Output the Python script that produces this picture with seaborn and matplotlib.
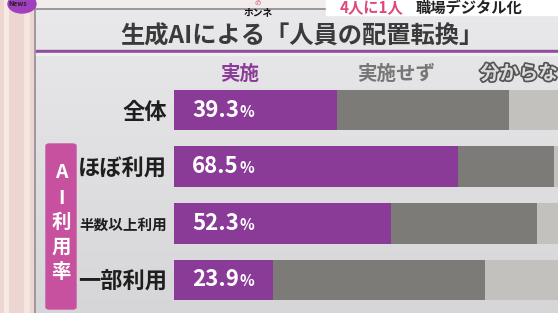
import matplotlib
matplotlib.use('Agg')
import matplotlib.pyplot as plt
import matplotlib.patheffects as pe
from matplotlib.patches import Rectangle, FancyBboxPatch, Ellipse
import seaborn as sns
import pandas as pd
import numpy as np

# ---- data ----
categories = ['全体', 'ほぼ利用', '半数以上利用', '一部利用']
implemented = [39.3, 68.5, 52.3, 23.9]
not_implemented = [41.6, 23.3, 35.4, 51.2]
unknown = [19.1, 8.2, 12.3, 24.9]
legend_labels = ['実施', '実施せず', '分からない']
title = '生成AIによる「人員の配置転換」'
side_label = ['A', 'I', '利', '用', '率']

sns.set_theme(style='white')
plt.rcParams['font.family'] = ['Noto Sans CJK JP', 'DejaVu Sans']

PURPLE = '#8a3b97'
GRAY = '#7c7b78'
LIGHT = '#c3c1be'

W, H = 558, 313
fig = plt.figure(figsize=(W / 100, H / 100), dpi=100)


def fx(x):
    return x / W


def fy(y):
    return 1 - y / H


# ---- background (decoration) ----
bg = fig.add_axes([0, 0, 1, 1], zorder=-10)
yy = np.linspace(0, 1, H)[:, None]
img = np.zeros((H, W, 3))
top = np.array([0.915, 0.915, 0.925])
bot = np.array([0.84, 0.84, 0.85])
img[:] = (top + (bot - top) * yy)[:, None, :].reshape(H, 1, 3)
img[:, :35] = np.array([0.93, 0.84, 0.82])
img[:, 4:9] = np.array([0.97, 0.92, 0.90])
img[:, 24:30] = np.array([0.96, 0.90, 0.88])
img[:10, 35:] = np.array([0.95, 0.93, 0.92])
img[8:10, 35:] = np.array([0.60, 0.60, 0.62])
img[:, 34:36] = np.array([0.62, 0.60, 0.62])
bg.imshow(img, aspect='auto', extent=[0, W, H, 0])
bg.set_axis_off()

# ---- main bars ----
df = pd.DataFrame({
    'cat': categories,
    'imp': implemented,
    'notimp': not_implemented,
    'unk': unknown,
})
df['lvl2'] = df['imp'] + df['notimp']
df['lvl3'] = df['lvl2'] + df['unk']

ax = fig.add_axes([fx(174), fy(308.3), 414 / W, (308.3 - 81.7) / H])
ax.patch.set_alpha(0)
sns.barplot(data=df, x='lvl3', y='cat', orient='h', color=LIGHT, width=0.72,
            saturation=1, linewidth=0, ax=ax)
sns.barplot(data=df, x='lvl2', y='cat', orient='h', color=GRAY, width=0.72,
            saturation=1, linewidth=0, ax=ax)
sns.barplot(data=df, x='imp', y='cat', orient='h', color=PURPLE, width=0.72,
            saturation=1, linewidth=0, ax=ax)
ax.set_xlim(0, 100)
ax.set_ylim(3.5, -0.5)
ax.set_xlabel('')
ax.set_ylabel('')
ax.set_xticks([])
for s in ax.spines.values():
    s.set_visible(False)
ax.tick_params(axis='y', length=0, pad=5)
ax.set_yticks(range(len(categories)))
ax.set_yticklabels(categories, fontweight='bold', color='#1e1e1e')
for lab, cat in zip(ax.get_yticklabels(), categories):
    lab.set_fontsize(10.5 if len(cat) > 4 else 16)

for i, v in enumerate(implemented):
    t = ax.annotate(f'{v:.1f}', xy=(0, i), xytext=(18, 0), textcoords='offset pixels',
                    ha='left', va='center', color='white', fontsize=16, fontweight='bold')
    ax.annotate('%', xy=(1, 0), xycoords=t, xytext=(1, 2), textcoords='offset pixels',
                ha='left', va='bottom', color='white', fontsize=11, fontweight='bold')

# ---- title & headers ----
fig.text(fx(302), fy(37), title, ha='center', va='center', fontsize=17.5,
         fontweight='bold', color='#3a3a3a')
fig.patches.append(Rectangle((fx(36), fy(53)), 1, 3 / H, transform=fig.transFigure,
                             color='#8c4d99', zorder=1))
fig.patches.append(Rectangle((fx(36), fy(55)), 1, 2 / H, transform=fig.transFigure,
                             color='#f0eef0', zorder=1))

fig.text(fx(240), fy(74), legend_labels[0], ha='center', va='center', fontsize=14,
         fontweight='bold', color=PURPLE)
fig.text(fx(396), fy(74), legend_labels[1], ha='center', va='center', fontsize=14,
         fontweight='bold', color='#767676')
fig.text(fx(480), fy(74), legend_labels[2], ha='left', va='center', fontsize=14,
         fontweight='bold', color='#dcdcdc',
         path_effects=[pe.withStroke(linewidth=2.5, foreground='#555555')])

# ---- side label box ----
fig.patches.append(FancyBboxPatch((fx(46), fy(309)), fx(30), 165 / H,
                                  boxstyle='round,pad=0,rounding_size=0.006',
                                  transform=fig.transFigure, color='#c8519f', zorder=2))
for ch, yv in zip(side_label, [172, 198, 222, 247, 272]):
    fig.text(fx(61), fy(yv), ch, ha='center', va='center', fontsize=14,
             fontweight='bold', color='white', zorder=3)

# ---- top broadcast strip ----
fig.patches.append(Rectangle((fx(326), fy(15)), 1, 15 / H, transform=fig.transFigure,
                             color='#ffffff', zorder=1))
fig.text(fx(340), fy(13), '4人に1人', ha='left', va='baseline', fontsize=11,
         fontweight='bold', color='#e0487c', zorder=3)
fig.text(fx(416), fy(13), '職場デジタル化', ha='left', va='baseline', fontsize=11,
         fontweight='bold', color='#222222', zorder=3)
fig.text(fx(258), fy(15), 'ホンネ', ha='center', va='baseline', fontsize=7,
         fontweight='bold', color='#111111', zorder=3)
fig.text(fx(258), fy(2.5), 'の', ha='center', va='center', fontsize=4.5,
         color='#d04070', zorder=3)
fig.patches.append(Ellipse((fx(22), fy(4)), 28 / W, 18 / H, transform=fig.transFigure,
                           color='#a040c0', zorder=2))
fig.text(fx(18), fy(4), 'News', ha='center', va='center', fontsize=5,
         fontweight='bold', color='#222222', zorder=3)

fig.savefig('out.png', dpi=100)
